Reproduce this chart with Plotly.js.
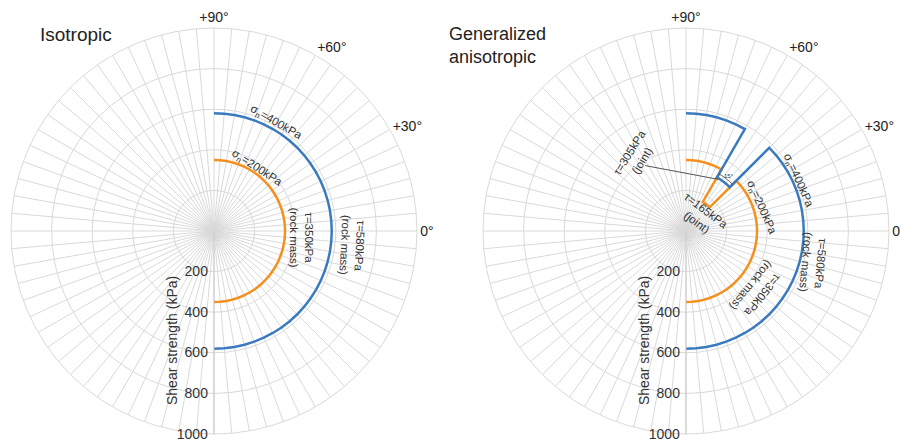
<!DOCTYPE html>
<html>
<head>
<meta charset="utf-8">
<script src="https://cdn.plot.ly/plotly-3.0.1.min.js"></script>
<style>html,body{margin:0;padding:0;background:#fff;}#chart{width:900px;height:441px;}</style>
</head>
<body>
<div id="chart"></div>
<script>
// ---- data ----
const isoTheta = [-90,-85,-80,-75,-70,-65,-60,-55,-50,-45,-40,-35,-30,-25,-20,-15,-10,-5,0,5,10,15,20,25,30,35,40,45,50,55,60,65,70,75,80,85,90];
const isoOrangeR = [350,350,350,350,350,350,350,350,350,350,350,350,350,350,350,350,350,350,350,350,350,350,350,350,350,350,350,350,350,350,350,350,350,350,350,350,350];
const isoBlueR   = [580,580,580,580,580,580,580,580,580,580,580,580,580,580,580,580,580,580,580,580,580,580,580,580,580,580,580,580,580,580,580,580,580,580,580,580,580];

const anisoTheta = [-90,-85,-80,-75,-70,-65,-60,-55,-50,-45,-40,-35,-30,-25,-20,-15,-10,-5,0,5,10,15,20,25,30,35,40,45,45,50,55,60,60,65,70,75,80,85,90];
const anisoOrangeR = [350,350,350,350,350,350,350,350,350,350,350,350,350,350,350,350,350,350,350,350,350,350,350,350,350,350,350,350,165,165,165,165,350,350,350,350,350,350,350];
const anisoBlueR   = [580,580,580,580,580,580,580,580,580,580,580,580,580,580,580,580,580,580,580,580,580,580,580,580,580,580,580,580,305,305,305,305,580,580,580,580,580,580,580];

const leaderR = [380, 300];
const leaderTheta = [122, 58];
const dimR = [325, 325, 325, 325];
const dimTheta = [45, 50, 55, 60];

const radialTicks = [200, 400, 600, 800, 1000];
const angTickVals = [];
const angTickText = [];
for (let a = 0; a < 360; a += 5) {
  angTickVals.push(a);
  angTickText.push(a === 0 ? '0°' : (a === 30 ? '+30°' : (a === 60 ? '+60°' : (a === 90 ? '+90°' : ''))));
}

const leftLabels = [
  {t:'σ<sub>n</sub>=400kPa', r:615, th:60, ang:30},
  {t:'σ<sub>n</sub>=200kPa', r:375, th:56, ang:33},
  {t:'τ=350kPa<br>(rock mass)', r:433, th:-4, ang:90},
  {t:'τ=580kPa<br>(rock mass)', r:685, th:-6, ang:93}
];
const rightLabels = [
  {t:'τ=305kPa<br>(joint)', r:440, th:124, ang:-58},
  {t:'τ=165kPa<br>(joint)', r:103, th:43, ang:37},
  {t:'σ<sub>n</sub>=200kPa', r:388, th:17, ang:66},
  {t:'σ<sub>n</sub>=400kPa', r:605, th:24, ang:66},
  {t:'τ=350kPa<br>(rock mass)', r:452, th:-40, ang:129},
  {t:'τ=580kPa<br>(rock mass)', r:645, th:-14, ang:95},
  {t:'15°', r:345, th:52, ang:0, size:6}
];

// ---- layout ----
const FONT = 'Liberation Sans, Arial, sans-serif';
const ORANGE = '#f5901f';
const BLUE = '#3a7abf';
const domL = {x:[11/900, 417/900], y:[7/441, 413/441]};
const domR = {x:[483/900, 889/900], y:[7/441, 413/441]};
const RMAX = 1000;

function polarAxes(dom) {
  return {
    domain: dom,
    bgcolor: '#ffffff',
    radialaxis: {
      range: [0, RMAX], angle: -90, side: 'clockwise', tickangle: -90,
      tickmode: 'array', tickvals: radialTicks, ticks: '',
      showline: true, linecolor: '#c8c8c8', linewidth: 1,
      gridcolor: '#d9d9d9', gridwidth: 1,
      tickfont: {family: FONT, size: 14, color: '#333'}
    },
    angularaxis: {
      rotation: 0, direction: 'counterclockwise',
      tickmode: 'array', tickvals: angTickVals, ticktext: angTickText, ticks: '',
      showline: true, linecolor: '#d9d9d9', linewidth: 1,
      gridcolor: '#d9d9d9', gridwidth: 1,
      tickfont: {family: FONT, size: 14, color: '#222'}
    }
  };
}

function toPaper(dom, r, th) {
  const cx = (dom.x[0] + dom.x[1]) / 2, cy = (dom.y[0] + dom.y[1]) / 2;
  const hx = (dom.x[1] - dom.x[0]) / 2, hy = (dom.y[1] - dom.y[0]) / 2;
  const a = th * Math.PI / 180;
  return {x: cx + r / RMAX * hx * Math.cos(a), y: cy + r / RMAX * hy * Math.sin(a)};
}

const annotations = [];
function addLabels(list, dom) {
  list.forEach(l => {
    const p = toPaper(dom, l.r, l.th);
    annotations.push({xref:'paper', yref:'paper', x:p.x, y:p.y, text:l.t, showarrow:false,
      textangle:l.ang, xanchor:'center', yanchor:'middle',
      font:{family:FONT, size:l.size || 11.5, color:'#333'}});
  });
}
addLabels(leftLabels, domL);
addLabels(rightLabels, domR);

// axis titles
[domL, domR].forEach(dom => {
  const cx = (dom.x[0] + dom.x[1]) / 2;
  annotations.push({xref:'paper', yref:'paper', x:cx - 42/900, y:(441-341)/441, text:'Shear strength (kPa)',
    showarrow:false, textangle:-90, xanchor:'center', yanchor:'middle',
    font:{family:FONT, size:14, color:'#333'}});
});
// titles
annotations.push({xref:'paper', yref:'paper', x:38/900, y:(441-34)/441, text:'Isotropic', showarrow:false,
  xanchor:'left', yanchor:'middle', font:{family:FONT, size:19, color:'#222'}});
annotations.push({xref:'paper', yref:'paper', x:447/900, y:(441-45.5)/441, text:'Generalized<br>anisotropic', showarrow:false,
  xanchor:'left', yanchor:'middle', align:'left', font:{family:FONT, size:18, color:'#222'}});

const lineStyle = c => ({color: c, width: 2.5});
const traces = [
  {type:'scatterpolar', subplot:'polar', mode:'lines', r:isoOrangeR, theta:isoTheta, line:lineStyle(ORANGE), hoverinfo:'skip'},
  {type:'scatterpolar', subplot:'polar', mode:'lines', r:isoBlueR, theta:isoTheta, line:lineStyle(BLUE), hoverinfo:'skip'},
  {type:'scatterpolar', subplot:'polar2', mode:'lines', r:anisoOrangeR, theta:anisoTheta, line:lineStyle(ORANGE), hoverinfo:'skip'},
  {type:'scatterpolar', subplot:'polar2', mode:'lines', r:anisoBlueR, theta:anisoTheta, line:lineStyle(BLUE), hoverinfo:'skip'},
  {type:'scatterpolar', subplot:'polar2', mode:'lines', r:leaderR, theta:leaderTheta, line:{color:'#555', width:1}, hoverinfo:'skip'},
  {type:'scatterpolar', subplot:'polar2', mode:'lines', r:dimR, theta:dimTheta, line:{color:'#444', width:0.8}, hoverinfo:'skip'}
];

const layout = {
  width: 900, height: 441,
  margin: {l:0, r:0, t:0, b:0},
  paper_bgcolor: '#ffffff',
  showlegend: false,
  polar: polarAxes(domL),
  polar2: polarAxes(domR),
  annotations: annotations
};

Plotly.newPlot('chart', traces, layout, {displayModeBar:false, staticPlot:true});
</script>
</body>
</html>
